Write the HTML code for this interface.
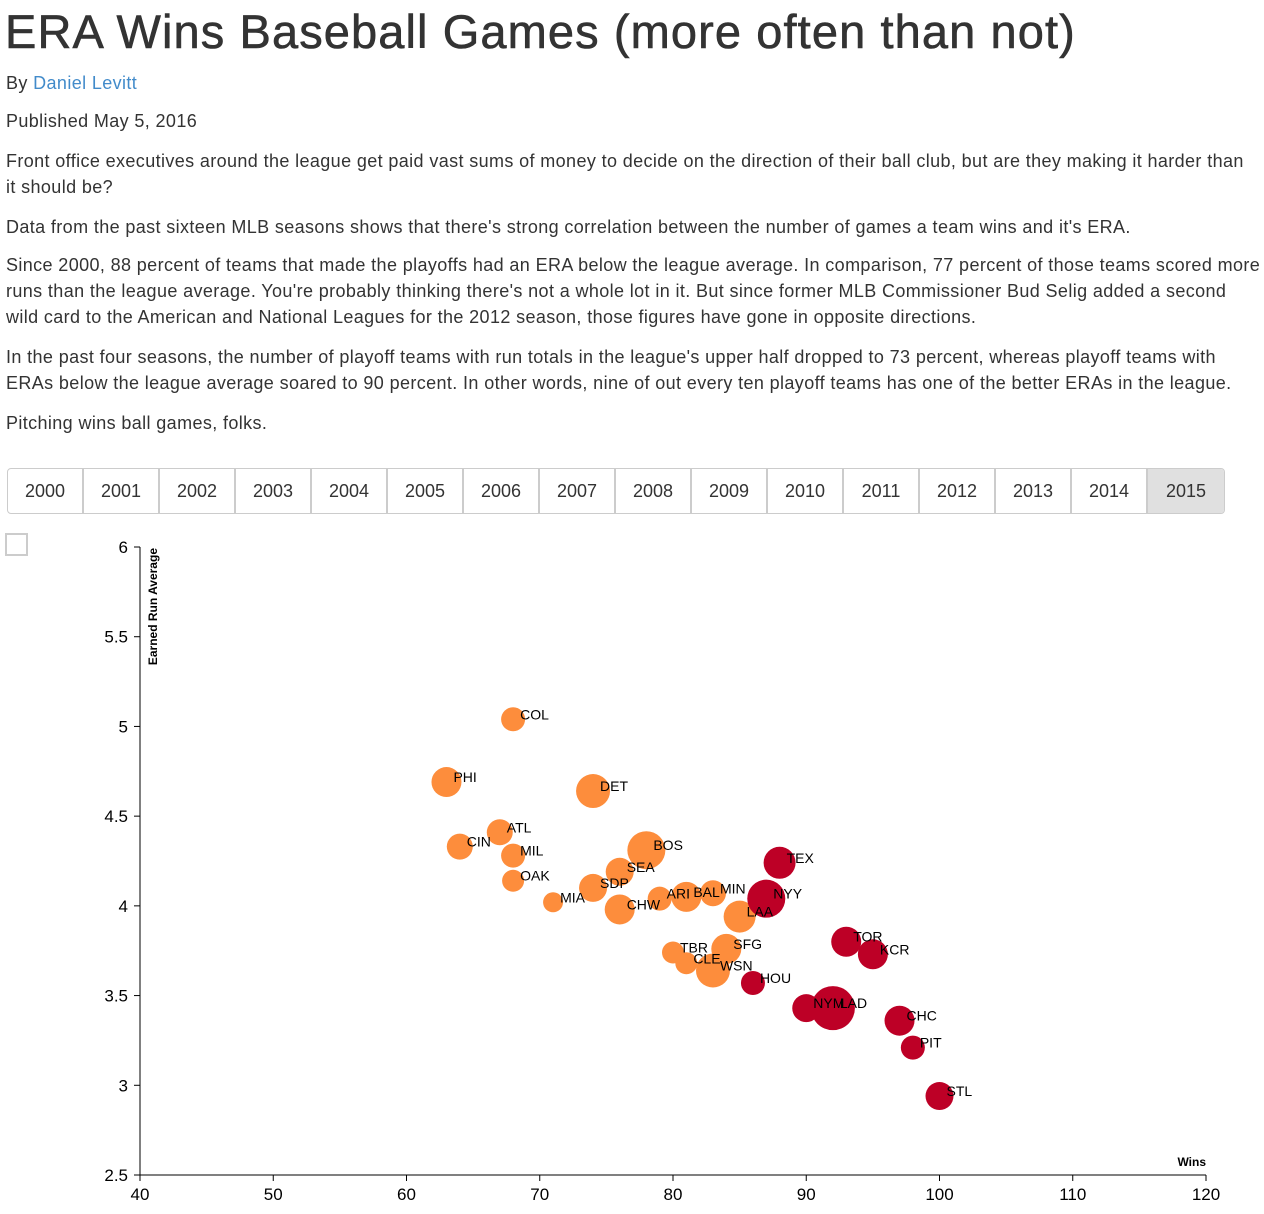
<!DOCTYPE html>
<html><head><meta charset="utf-8"><style>
body{margin:0;width:1264px;height:1214px;overflow:hidden;background:#fff;font-family:"Liberation Sans",Arial,sans-serif;color:#333;position:relative}
.t{position:absolute;left:6px;font-size:18px;line-height:26px;white-space:nowrap;letter-spacing:0.38px}
h1{position:absolute;left:5px;top:2px;margin:0;font-size:47px;font-weight:normal;line-height:60px;white-space:nowrap;letter-spacing:1.1px;-webkit-text-stroke:0.6px #333}
a{color:#428bca;text-decoration:none}
#btns{position:absolute;left:7px;top:468px;height:44px;display:flex;border:1px solid #ccc;border-radius:4px;overflow:hidden}
#btns div{height:44px;line-height:44px;text-align:center;font-size:18px;border-right:2px solid #ccc;box-sizing:border-box}
#btns div:last-child{border-right:none;background:#e0e0e0}
#cb{position:absolute;left:5px;top:533px;width:23px;height:23px;border:2px solid #ccc;box-sizing:border-box}
svg{position:absolute;left:0;top:0}
</style></head><body>
<h1>ERA Wins Baseball Games (more often than not)</h1>
<div class="t" style="top:70px">By <a>Daniel Levitt</a></div>
<div class="t" style="top:108px">Published May 5, 2016</div>
<div class="t" style="top:148px">Front office executives around the league get paid vast sums of money to decide on the direction of their ball club, but are they making it harder than<br>it should be?</div>
<div class="t" style="top:214px">Data from the past sixteen MLB seasons shows that there's strong correlation between the number of games a team wins and it's ERA.</div>
<div class="t" style="top:252px">Since 2000, 88 percent of teams that made the playoffs had an ERA below the league average. In comparison, 77 percent of those teams scored more<br>runs than the league average. You're probably thinking there's not a whole lot in it. But since former MLB Commissioner Bud Selig added a second<br>wild card to the American and National Leagues for the 2012 season, those figures have gone in opposite directions.</div>
<div class="t" style="top:344px">In the past four seasons, the number of playoff teams with run totals in the league's upper half dropped to 73 percent, whereas playoff teams with<br>ERAs below the league average soared to 90 percent. In other words, nine of out every ten playoff teams has one of the better ERAs in the league.</div>
<div class="t" style="top:410px">Pitching wins ball games, folks.</div>
<div id="btns"></div>
<div id="cb"></div>
<svg id="chart" width="1264" height="1214"></svg>
<script>
const years=["2000","2001","2002","2003","2004","2005","2006","2007","2008","2009","2010","2011","2012","2013","2014","2015"];
const btnW=[76,76,76,76,76,76,76,76,76,76,76,76,76,76,76,76];
const btns=document.getElementById('btns');
years.forEach((y,i)=>{const d=document.createElement('div');d.textContent=y;d.style.width=btnW[i]+'px';


btns.appendChild(d);});

const teams=["COL","PHI","DET","ATL","CIN","MIL","OAK","MIA","BOS","SEA","SDP","CHW","ARI","BAL","MIN","LAA","NYY","TEX","TBR","CLE","SFG","WSN","HOU","TOR","KCR","NYM","LAD","CHC","PIT","STL"];
const wins=[68,63,74,67,64,68,68,71,78,76,74,76,79,81,83,85,87,88,80,81,84,83,86,93,95,90,92,97,98,100];
const era=[5.04,4.69,4.64,4.41,4.33,4.28,4.14,4.02,4.31,4.19,4.10,3.98,4.04,4.05,4.07,3.94,4.04,4.24,3.74,3.68,3.76,3.64,3.57,3.80,3.73,3.43,3.43,3.36,3.21,2.94];
const size=[12,15,17,13,13,12,11,10,19,14,14,15,12,15,13,16,19,16,11,11,15,17,12,15,15,14,22,15,12,14];
const playoff=[0,0,0,0,0,0,0,0,0,0,0,0,0,0,0,0,1,1,0,0,0,0,1,1,1,1,1,1,1,1];
const xTicks=[40,50,60,70,80,90,100,110,120];
const yTicks=[2.5,3,3.5,4,4.5,5,5.5,6];

const NS='http://www.w3.org/2000/svg';
const svg=document.getElementById('chart');
const X=w=>140+(w-40)*(1206-140)/80;
const Y=e=>547+(6-e)*(1175-547)/3.5;
function el(t,a){const e=document.createElementNS(NS,t);for(const k in a)e.setAttribute(k,a[k]);svg.appendChild(e);return e;}
let e;
e=el('line',{x1:140,y1:547,x2:140,y2:1175,stroke:'#000','stroke-width':1});


e=el('line',{x1:140,y1:1175,x2:1206,y2:1175,stroke:'#000','stroke-width':1});


yTicks.forEach(v=>{
  el('line',{x1:134,y1:Y(v),x2:140,y2:Y(v),stroke:'#000'});
  const t=el('text',{x:128,y:Y(v)+6,'text-anchor':'end','font-size':17,fill:'#000'});t.textContent=v;
  
  
});
xTicks.forEach(v=>{
  el('line',{x1:X(v),y1:1175,x2:X(v),y2:1181,stroke:'#000'});
  const t=el('text',{x:X(v),y:1200,'text-anchor':'middle','font-size':17,fill:'#000'});t.textContent=v;
  
  
});
e=el('text',{x:0,y:0,transform:'translate(157,548) rotate(-90)','text-anchor':'end','font-size':12,'font-weight':'bold',fill:'#000'});
e.textContent='Earned Run Average';


e=el('text',{x:1206,y:1166,'text-anchor':'end','font-size':12,'font-weight':'bold',fill:'#000'});
e.textContent='Wins';


teams.forEach((tm,i)=>{
  const c=el('circle',{cx:X(wins[i]),cy:Y(era[i]),r:size[i],fill:playoff[i]?'#bd0026':'#fd8d3c'});
  
  
});
teams.forEach((tm,i)=>{
  const t=el('text',{x:X(wins[i])+7,y:Y(era[i]),'font-size':14,fill:'#000'});t.textContent=tm;
  
  
});
</script>
</body></html>
